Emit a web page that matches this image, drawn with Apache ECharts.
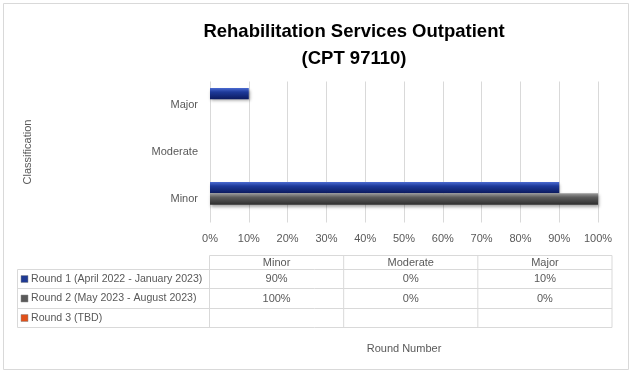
<!DOCTYPE html>
<html>
<head>
<meta charset="utf-8">
<script src="https://cdn.jsdelivr.net/npm/echarts@6/dist/echarts.min.js"></script>
<style>
  html, body { margin: 0; padding: 0; background: #fff; }
  #chart { width: 633px; height: 376px; }
</style>
</head>
<body>
<div id="chart"></div>
<script>
const categories = ['Minor', 'Moderate', 'Major']
const seriesNames = [
    'Round 1 (April 2022 - January 2023)',
    'Round 2 (May 2023 - August 2023)',
    'Round 3 (TBD)',
]
const round1 = [90, 0, 10]
const round2 = [100, 0, 0]
const round3 = [null, null, null]
const xTicks = [0, 10, 20, 30, 40, 50, 60, 70, 80, 90, 100]

const FONT = '"Liberation Sans", Arial, sans-serif'
const TEXT = '#595959'
const LINE = '#d9d9d9'

const grad = (top, mid, bot) => new echarts.graphic.LinearGradient(0, 0, 0, 1, [
    { offset: 0, color: top },
    { offset: 0.35, color: mid },
    { offset: 1, color: bot },
])
const barColors = [
    grad('#4a6ad0', '#1e3a9a', '#0b1a5e'),
    grad('#9a9a9a', '#5c5c5c', '#2e2e2e'),
    grad('#f08050', '#e0501a', '#a8330a'),
]
const iconColors = ['#1f3a93', '#5a5a5a', '#e0501a']
const allData = [round1, round2, round3]

const chart = echarts.init(document.getElementById('chart'), null, { renderer: 'canvas' })

// data table under the plot, built from the same arrays
const tableLeft = 17.5, col0 = 209.5, tableRight = 612
const headTop = 255.5, rowTops = [269.5, 288.5, 308.5], tableBottom = 327.5
const colW = (tableRight - col0) / categories.length
const table = []
const hline = (x1, x2, y) => table.push({ type: 'line', shape: { x1, y1: y, x2, y2: y }, style: { stroke: LINE, lineWidth: 1 }, silent: true })
const vline = (x, y1, y2) => table.push({ type: 'line', shape: { x1: x, y1, x2: x, y2 }, style: { stroke: LINE, lineWidth: 1 }, silent: true })
hline(col0, tableRight, headTop)
hline(tableLeft, tableRight, rowTops[0])
hline(tableLeft, tableRight, rowTops[1])
hline(tableLeft, tableRight, rowTops[2])
hline(tableLeft, tableRight, tableBottom)
vline(tableLeft, rowTops[0], tableBottom)
for (let c = 0; c <= categories.length; c++) vline(col0 + c * colW, headTop, tableBottom)
categories.forEach((cat, c) => {
    table.push({ type: 'text', silent: true, style: {
        x: col0 + (c + 0.5) * colW, y: (headTop + rowTops[0]) / 2, text: cat,
        align: 'center', verticalAlign: 'middle', fill: TEXT, font: `11px ${FONT}` } })
})
seriesNames.forEach((name, r) => {
    const y0 = rowTops[r], y1 = r < 2 ? rowTops[r + 1] : tableBottom
    const yc = (y0 + y1) / 2
    table.push({ type: 'rect', silent: true, shape: { x: 21, y: yc - 3.5, width: 7, height: 7 },
        style: { fill: iconColors[r], stroke: '#888', lineWidth: 0.5 } })
    table.push({ type: 'text', silent: true, style: {
        x: 31, y: yc, text: name, align: 'left', verticalAlign: 'middle', fill: TEXT, font: `10.6px ${FONT}` } })
    allData[r].forEach((v, c) => {
        if (v == null) return
        table.push({ type: 'text', silent: true, style: {
            x: col0 + (c + 0.5) * colW, y: yc, text: v + '%',
            align: 'center', verticalAlign: 'middle', fill: TEXT, font: `11px ${FONT}` } })
    })
})
table.push({ type: 'rect', silent: true, shape: { x: 3.5, y: 3.5, width: 625, height: 366 },
    style: { fill: 'none', stroke: LINE, lineWidth: 1 } })

const option = {
    animation: false,
    textStyle: { fontFamily: FONT },
    title: {
        text: 'Rehabilitation Services Outpatient\n(CPT 97110)',
        left: 349, top: 13, textAlign: 'center',
        textStyle: { fontSize: 18.5, fontWeight: 'bold', color: '#000', lineHeight: 27, fontFamily: FONT },
    },
    grid: { left: 210, right: 35, top: 81.5, bottom: 153.5, containLabel: false },
    xAxis: {
        type: 'value', min: 0, max: 100, interval: 10,
        name: 'Round Number', nameLocation: 'middle', nameGap: 121,
        nameTextStyle: { color: TEXT, fontSize: 11 },
        axisLine: { show: false }, axisTick: { show: false },
        axisLabel: { color: TEXT, fontSize: 11, margin: 11, formatter: v => xTicks.includes(v) ? v + '%' : '' },
        splitLine: { lineStyle: { color: LINE } },
    },
    yAxis: {
        type: 'category', data: categories,
        name: 'Classification', nameLocation: 'middle', nameRotate: 90, nameGap: 177,
        nameTextStyle: { color: TEXT, fontSize: 11 },
        axisLine: { show: false }, axisTick: { show: false },
        axisLabel: { color: TEXT, fontSize: 11, margin: 12 },
    },
    series: seriesNames.map((name, i) => ({
        type: 'bar', name, data: allData[i],
        barGap: '0%', barCategoryGap: '28%',
        itemStyle: {
            color: barColors[i],
            shadowColor: 'rgba(0,0,0,0.35)', shadowBlur: 3, shadowOffsetY: 2, shadowOffsetX: 1,
        },
    })),
    graphic: table,
}
chart.setOption(option)
</script>
</body>
</html>
